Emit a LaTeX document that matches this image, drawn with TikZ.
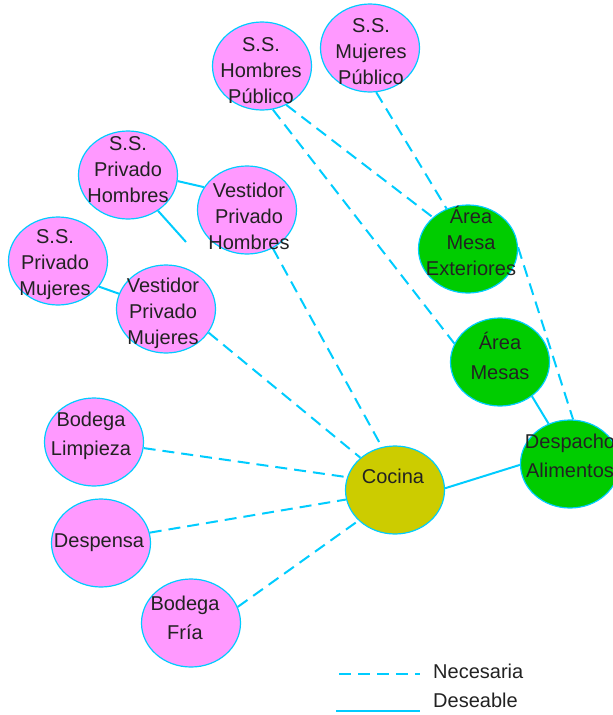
\documentclass[tikz,border=0pt]{standalone}
\usepackage{fontspec}
\setmainfont{Liberation Sans}
\usetikzlibrary{shapes.geometric}
\definecolor{pinkfill}{HTML}{FF99FF}
\definecolor{greenfill}{HTML}{00CC00}
\definecolor{olivefill}{HTML}{CCCC00}
\definecolor{linecyan}{HTML}{00CCFF}
\definecolor{txt}{HTML}{222222}
\tikzset{
  blob/.style={ellipse, draw=linecyan, line width=1.2pt, minimum width=99pt, minimum height=88pt, inner sep=0pt},
  pinknode/.style={blob, fill=pinkfill},
  greennode/.style={blob, fill=greenfill},
  cocinanode/.style={blob, fill=olivefill},
  lblthree/.style={align=center, text=txt, inner sep=0pt, font=\fontsize{20}{26}\selectfont},
  lbltwo/.style={align=center, text=txt, inner sep=0pt, font=\fontsize{20}{29.5}\selectfont},
  nec/.style={draw=linecyan, line width=2pt, dash pattern=on 12pt off 7pt},
  des/.style={draw=linecyan, line width=2pt},
}
\begin{document}
\begin{tikzpicture}[x=1pt,y=-1pt]
\useasboundingbox (0,0) rectangle (613,715);
\clip (0,0) rectangle (613,715);
% ellipses
\node[pinknode] (shp) at (262,66) {};
\node[pinknode] (smp) at (370,48) {};
\node[pinknode] (sph) at (128,175) {};
\node[pinknode] (vph) at (247,210) {};
\node[pinknode] (spm) at (58,261) {};
\node[pinknode] (vpm) at (166,309) {};
\node[greennode] (ame) at (468,249) {};
\node[greennode] (am) at (500,362) {};
\node[greennode] (da) at (570,464) {};
\node[cocinanode] (co) at (395,490) {};
\node[pinknode] (bl) at (94,442) {};
\node[pinknode] (de) at (101,543) {};
\node[pinknode] (bf) at (191,623) {};
% free end
\coordinate (sphend) at (186,242);
% Deseable connectors
\draw[des] (sph.-7) -- (vph.152);
\draw[des] (sph.-50) -- (sphend);
\draw[des] (spm.-32) -- (vpm.162);
\draw[des] (am.-47) -- (da.118);
\draw[des] (co.2) -- (da.181);
% Necesaria connectors
\draw[nec] (shp.-58) -- (ame.138);
\draw[nec] (shp.-76) -- (am.158);
\draw[nec] (smp.-82) -- (ame.118);
\draw[nec] (ame.2) -- (da.86);
\draw[nec] (vph.-56) -- (co.107);
\draw[nec] (vpm.-29) -- (co.137);
\draw[nec] (bl.-7) -- (co.165);
\draw[nec] (de.12) -- (co.191);
\draw[nec] (bf.19) -- (co.220);
% labels
\node[lblthree] (shp-t) at (261,71) {S.S.\\Hombres\\Público};
\node[lblthree] (smp-t) at (371,52) {S.S.\\Mujeres\\Público};
\node[lblthree] (sph-t) at (128,170) {S.S.\\Privado\\Hombres};
\node[lblthree] (vph-t) at (249,216) {Vestidor\\Privado\\Hombres};
\node[lblthree] (spm-t) at (55,265) {S.S.\\Privado\\Mujeres};
\node[lblthree] (vpm-t) at (163,313) {Vestidor\\Privado\\Mujeres};
\node[lblthree] (ame-t) at (471,241) {Área\\Mesa\\Exteriores};
\node[lbltwo] (am-t) at (500,356) {Área\\Mesas};
\node[lbltwo] (da-t) at (570,456) {Despacho\\Alimentos};
\node[lbltwo] (co-t) at (393,476) {Cocina};
\node[lbltwo] (bl-t) at (91,436) {Bodega\\Limpieza};
\node[lbltwo] (de-t) at (99,543) {Despensa};
\node[lbltwo] (bf-t) at (185,618) {Bodega\\Fría};
% legend
\coordinate (necA) at (339,674);
\coordinate (necB) at (420,674);
\coordinate (desA) at (336,711);
\coordinate (desB) at (420,711);
\draw[nec] (necA) -- (necB);
\draw[des] (desA) -- (desB);
\node[lbltwo, anchor=west] (nec-t) at (433,671) {Necesaria};
\node[lbltwo, anchor=west] (des-t) at (433,700) {Deseable};
\end{tikzpicture}
\end{document}
